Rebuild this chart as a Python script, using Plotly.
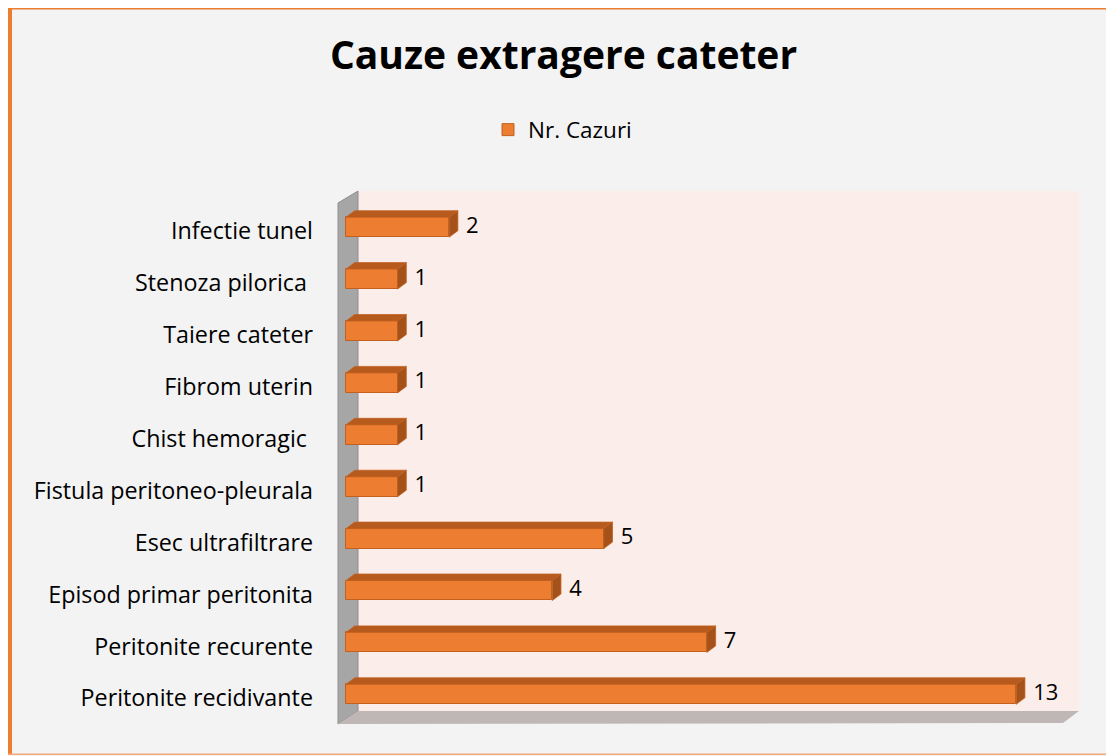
"""Cauze extragere cateter - horizontal 3D-style bar chart."""

import plotly.graph_objects as go

categories = [
    "Peritonite recidivante",
    "Peritonite recurente",
    "Episod primar peritonita",
    "Esec ultrafiltrare",
    "Fistula peritoneo-pleurala",
    "Chist hemoragic\u00a0",
    "Fibrom uterin",
    "Taiere cateter",
    "Stenoza pilorica\u00a0",
    "Infectie tunel",
]
nr_cazuri = [13, 7, 4, 5, 1, 1, 1, 1, 1, 2]
series_name = "Nr. Cazuri"

# the page adds an 8px body margin, so the figure is 8px smaller
OFF = 8
W, H = 1114 - OFF, 756 - OFF
# plot area in figure pixels
PL, PR, PT, PB = 338 - OFF, 1079 - OFF, 191 - OFF, 724 - OFF

FRONT = "#ED7D31"
TOP = "#B65A1E"
SIDE = "#A4511A"
EDGE = "#C2611F"
FONT = "Open Sans, Liberation Sans, sans-serif"

PX_PER_X = 51.55
PX_PER_Y = 51.9
bar_h = 0.385
dx, dy = 0.17, 0.125
label_pad = 0.16

pos = list(range(len(categories)))


def px_x(p):
    return (p - OFF - PL) / (PR - PL)


def px_y(p):
    return (PB - (p - OFF)) / (PB - PT)


fig = go.Figure()

fig.add_trace(
    go.Bar(
        x=nr_cazuri,
        y=pos,
        orientation="h",
        width=bar_h,
        name=series_name,
        marker={"color": FRONT, "line": {"color": EDGE, "width": 1}},
        hoverinfo="x",
    )
)

# top and side faces of each bar
top_x, top_y, side_x, side_y = [], [], [], []
for v, p in zip(nr_cazuri, pos):
    t = p + bar_h / 2
    b = p - bar_h / 2
    top_x += [0, v, v + dx, dx, 0, None]
    top_y += [t, t, t + dy, t + dy, t, None]
    side_x += [v, v + dx, v + dx, v, v, None]
    side_y += [b, b + dy, t + dy, t, b, None]

fig.add_trace(
    go.Scatter(
        x=top_x, y=top_y, fill="toself", mode="lines",
        fillcolor=TOP, line={"color": EDGE, "width": 0.8},
        showlegend=False, hoverinfo="skip",
    )
)
fig.add_trace(
    go.Scatter(
        x=side_x, y=side_y, fill="toself", mode="lines",
        fillcolor=SIDE, line={"color": EDGE, "width": 0.8},
        showlegend=False, hoverinfo="skip",
    )
)

# data labels
fig.add_trace(
    go.Scatter(
        x=[v + dx + label_pad for v in nr_cazuri],
        y=pos,
        mode="text",
        text=[str(v) for v in nr_cazuri],
        textposition="middle right",
        textfont={"family": FONT, "size": 22, "color": "#000000"},
        showlegend=False,
        hoverinfo="skip",
    )
)

shapes = [
    # back wall
    dict(type="rect", xref="paper", yref="paper", layer="below",
         x0=px_x(358), x1=px_x(1079), y0=px_y(711), y1=px_y(191),
         fillcolor="#FBEDE9", line={"width": 0}),
    # left wall
    dict(type="path", xref="paper", yref="paper", layer="below",
         path=f"M {px_x(338)} {px_y(724)} L {px_x(338)} {px_y(203)} "
              f"L {px_x(358)} {px_y(191)} L {px_x(358)} {px_y(711)} Z",
         fillcolor="#A6A6A6", line={"color": "#8E8E8E", "width": 1}),
    # floor
    dict(type="path", xref="paper", yref="paper", layer="below",
         path=f"M {px_x(338)} {px_y(724)} L {px_x(358)} {px_y(711)} "
              f"L {px_x(1079)} {px_y(711)} L {px_x(1063)} {px_y(723)} Z",
         fillcolor="#BEB7B5", line={"width": 0}),
    # border
    dict(type="line", xref="paper", yref="paper",
         x0=px_x(9.5), x1=px_x(9.5), y0=px_y(755), y1=px_y(7),
         line={"color": FRONT, "width": 5}),
    dict(type="line", xref="paper", yref="paper",
         x0=px_x(7), x1=px_x(1130), y0=px_y(8.3), y1=px_y(8.3),
         line={"color": FRONT, "width": 2.6}),
    dict(type="line", xref="paper", yref="paper",
         x0=px_x(7), x1=px_x(1130), y0=px_y(754.3), y1=px_y(754.3),
         line={"color": "#F2A878", "width": 1.5}),
]

fig.update_layout(
    width=W,
    height=H,
    margin={"l": PL, "r": W - PR, "t": PT, "b": H - PB},
    paper_bgcolor="#F3F3F3",
    plot_bgcolor="rgba(0,0,0,0)",
    font={"family": FONT, "size": 23, "color": "#000000"},
    title={
        "text": "<b>Cauze extragere cateter</b>",
        "font": {"family": FONT, "size": 39, "color": "#000000"},
        "x": (563.5 - OFF) / W, "xanchor": "center",
        "y": 1 - (55.5 - OFF) / H, "yanchor": "middle",
    },
    showlegend=True,
    legend={
        "xref": "container", "yref": "container",
        "x": (488 - OFF) / W, "xanchor": "left",
        "y": 1 - (130 - OFF) / H, "yanchor": "middle",
        "orientation": "h",
        "bgcolor": "rgba(0,0,0,0)",
        "font": {"family": FONT, "size": 22.5, "color": "#000000"},
        "itemwidth": 30,
    },
    xaxis={
        "range": [(PL + OFF - 346) / PX_PER_X, (PR + OFF - 346) / PX_PER_X],
        "showgrid": False, "zeroline": False, "showticklabels": False,
        "showline": False, "fixedrange": True,
    },
    yaxis={
        "range": [-(PB + OFF - 694.3) / PX_PER_Y, 9 + (227.2 - PT - OFF) / PX_PER_Y],
        "tickvals": pos, "ticktext": categories,
        "showgrid": False, "zeroline": False, "showline": False,
        "ticks": "", "ticklabelstandoff": 24, "ticklabelshift": 4,
        "tickfont": {"family": FONT, "size": 23.3, "color": "#000000"},
        "fixedrange": True,
    },
    shapes=shapes,
    bargap=0,
)

fig.write_html("out.html")
